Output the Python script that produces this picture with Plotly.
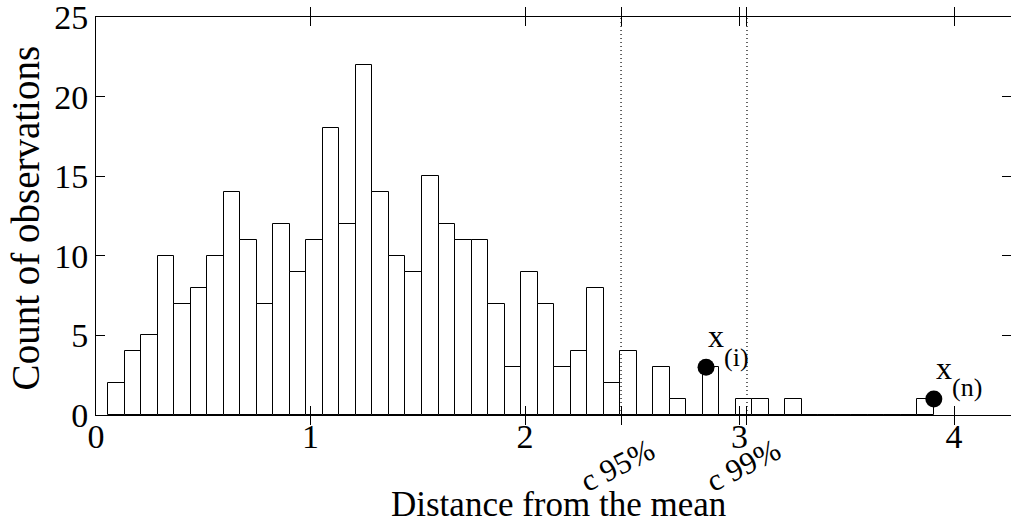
import numpy as np
import plotly.graph_objects as go

# ---- data ----
counts = [2, 4, 5, 10, 7, 8, 10, 14, 11, 7,
          12, 9, 11, 18, 12, 22, 14, 10, 9, 15,
          12, 11, 11, 7, 3, 9, 7, 3, 4, 8,
          2, 4, 0, 3, 1, 0, 3, 0, 1, 1,
          0, 1, 0, 0, 0, 0, 0, 0, 0, 1]
data_min = 0.0573
data_max = 3.906
crit_values = [2.4477, 3.0349]
crit_labels = ["c 95%", "c 99%"]
point_x = [2.844, 3.906]
point_y = [3, 1]
point_names = ["(i)", "(n)"]
x_ticks = [0, 1, 2, 3, 4]
y_ticks = [0, 5, 10, 15, 20, 25]
x_range = [0, 4.2657]
y_range = [0, 25.001]

edges = np.linspace(data_min, data_max, len(counts) + 1)
centers = (edges[:-1] + edges[1:]) / 2
bw = edges[1] - edges[0]

FONT = "Liberation Serif, Times New Roman, serif"

fig = go.Figure()
fig.add_trace(go.Bar(x=centers, y=counts, width=bw,
                     marker=dict(color="white", line=dict(color="black", width=1)),
                     showlegend=False))
for c in crit_values:
    fig.add_trace(go.Scatter(x=[c, c], y=[0, 25], mode="lines",
                             line=dict(color="black", width=1.2, dash="1px,3px"),
                             showlegend=False, yaxis="y2"))
fig.add_trace(go.Scatter(x=point_x, y=point_y, mode="markers",
                         marker=dict(color="black", size=17), showlegend=False))

# tick positions including the critical values
tv = sorted(x_ticks + crit_values)
tt = [str(v) if v in x_ticks else "" for v in tv]

annotations = []
for c, lab in zip(crit_values, crit_labels):
    annotations.append(dict(x=c - 0.02, xref="x", y=-0.126, yref="paper", text=lab,
                            showarrow=False, textangle=-27, xanchor="center", yanchor="middle",
                            font=dict(family=FONT, size=31, color="black")))
# x_(i), x_(n) labels
for px, py, nm in zip(point_x, point_y, point_names):
    annotations.append(dict(x=px + 0.046, xref="x", y=py + 1.96, yref="y", text="x",
                            showarrow=False, xanchor="center", yanchor="middle",
                            font=dict(family=FONT, size=32, color="black")))
    annotations.append(dict(x=px + 0.14 if nm == "(i)" else px + 0.155, xref="x",
                            y=py + 0.62 if nm == "(i)" else py + 0.73, yref="y", text=nm,
                            showarrow=False, xanchor="center", yanchor="middle",
                            font=dict(family=FONT, size=26, color="black")))
# axis titles
annotations.append(dict(x=0.505, xref="paper", y=-0.225, yref="paper",
                        text="Distance from the mean", showarrow=False,
                        xanchor="center", yanchor="middle",
                        font=dict(family=FONT, size=35, color="black")))
annotations.append(dict(x=-0.0776, xref="paper", y=0.494, yref="paper",
                        text="Count of observations", showarrow=False, textangle=-90,
                        xanchor="center", yanchor="middle",
                        font=dict(family=FONT, size=39, color="black")))

fig.update_layout(
    width=1011, height=525,
    margin=dict(l=96, r=0, t=17, b=110),
    paper_bgcolor="white", plot_bgcolor="white",
    bargap=0,
    font=dict(family=FONT, size=34, color="black"),
    xaxis=dict(range=x_range, tickvals=tv, ticktext=tt, ticks="inside", ticklen=9,
               tickcolor="black", showline=True, linecolor="black", linewidth=1,
               mirror="allticks", showgrid=False, zeroline=False, automargin=False,
               ticklabelstandoff=-9, ticklabeloverflow="allow",
               tickfont=dict(size=34)),
    yaxis=dict(range=y_range, tickvals=y_ticks, ticks="inside", ticklen=9,
               tickcolor="black", showline=True, linecolor="black", linewidth=1,
               showgrid=False, zeroline=False, automargin=False,
               ticklabeloverflow="allow",
               tickfont=dict(size=34)),
    yaxis2=dict(range=y_range, tickvals=y_ticks, overlaying="y", side="right",
                ticks="inside", ticklen=9, tickcolor="black", showticklabels=False,
                showline=False, showgrid=False, zeroline=False, automargin=False),
    annotations=annotations,
)
fig.write_html("out.html", config={"displayModeBar": False},
               post_script="document.body.style.margin='0';document.body.style.overflow='hidden';")
